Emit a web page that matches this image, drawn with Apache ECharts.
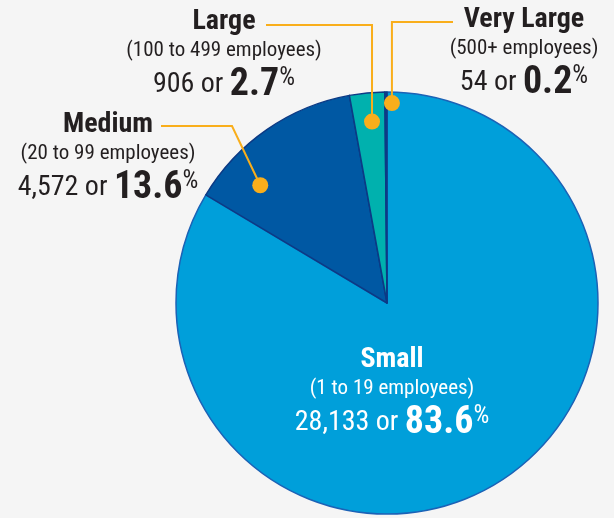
<!DOCTYPE html>
<html>
<head>
<meta charset="utf-8">
<script src="https://cdn.jsdelivr.net/npm/echarts@6/dist/echarts.min.js"></script>
<style>
  html, body { margin: 0; padding: 0; background: #f5f5f5; }
  #main { width: 614px; height: 518px; }
</style>
</head>
<body>
<div id="main"></div>
<script>
// data
const categories = ['Small', 'Medium', 'Large', 'Very Large'];
const ranges = ['(1 to 19 employees)', '(20 to 99 employees)', '(100 to 499 employees)', '(500+ employees)'];
const counts = [28133, 4572, 906, 54];
const percents = [83.6, 13.6, 2.7, 0.2];

const colors = ['#009fda', '#0058a3', '#00b1ae', '#173c8c'];
const FONT = '"Roboto Condensed", "DejaVu Sans", sans-serif';

// pie geometry
const cx = 387, cy = 303, R = 211;

// label / leader line layout (px)
const labelPos = [[392, 346], [108, 111], [224, 8], [524, 6]];
const leader = {
  1: { r: 173, da: -12.4, elbow: [232, 126], endX: 161 },
  2: { r: 182, da: 0.7, elbowY: 25, endX: 266 },
  3: { r: 200, da: 1.7, elbowY: 22, endX: 453 }
};

const total = counts.reduce((a, b) => a + b, 0);
const midAngles = [];
let acc = 0;
counts.forEach(v => {
  midAngles.push((acc + v / 2) / total * 360);
  acc += v;
});

const anchorOf = i => {
  const l = leader[i];
  const a = (midAngles[i] + l.da) * Math.PI / 180;
  return [cx + l.r * Math.sin(a), cy - l.r * Math.cos(a)];
};

const fmt = n => n.toLocaleString('en-US');

const makeRich = color => ({
  t: { fontFamily: FONT, fontSize: 28, fontWeight: 'bold', color: color, lineHeight: 28 },
  s: { fontFamily: FONT, fontSize: 21, color: color, lineHeight: 30 },
  n: { fontFamily: FONT, fontSize: 28, color: color, lineHeight: 38 },
  p: { fontFamily: FONT, fontSize: 38, fontWeight: 'bold', color: color, lineHeight: 38 },
  c: { fontFamily: FONT, fontSize: 25, color: color, verticalAlign: 'top', lineHeight: 38 }
});

const slices = categories.map((name, i) => ({
  name: name,
  value: counts[i],
  itemStyle: i === 0 ? { color: colors[i], borderColor: '#1b62b6' } : { color: colors[i] }
}));

const labelItems = categories.map((name, i) => {
  const item = { name: name, value: counts[i] };
  if (i === 0) {
    item.label = { position: 'inside', rich: makeRich('#ffffff') };
    item.labelLine = { show: false };
  }
  return item;
});

const dotData = [1, 2, 3].map(i => {
  const l = leader[i];
  return [l.r / R, midAngles[i] + l.da];
});

const draw = () => {
  const chart = echarts.init(document.getElementById('main'));
  chart.setOption({
    backgroundColor: '#f5f5f5',
    animation: false,
    polar: { center: [cx, cy], radius: R },
    radiusAxis: { type: 'value', min: 0, max: 1, show: false },
    angleAxis: { type: 'value', min: 0, max: 360, startAngle: 90, clockwise: true, show: false },
    series: [
      {
        type: 'pie',
        center: [cx, cy],
        radius: [0, R],
        startAngle: 90,
        clockwise: true,
        silent: true,
        z: 2,
        itemStyle: { borderColor: '#0c3a85', borderWidth: 1.5 },
        label: { show: false },
        labelLine: { show: false },
        data: slices
      },
      {
        // transparent copy on top, carries the labels and leader lines
        type: 'pie',
        center: [cx, cy],
        radius: [0, R],
        startAngle: 90,
        clockwise: true,
        silent: true,
        avoidLabelOverlap: false,
        z: 4,
        itemStyle: { color: 'rgba(0,0,0,0)', borderWidth: 0 },
        data: labelItems,
        label: {
          show: true,
          position: 'outside',
          align: 'center',
          formatter: p => {
            const i = p.dataIndex;
            return '{t|' + categories[i] + '}\n{s|' + ranges[i] + '}\n{n|' + fmt(counts[i]) + ' or }{p|' + percents[i].toFixed(1) + '}{c|%}';
          },
          rich: makeRich('#231f20')
        },
        labelLine: {
          show: true,
          showAbove: true,
          lineStyle: { color: '#f9ae1b', width: 2 }
        },
        labelLayout: p => {
          const i = p.dataIndex;
          const out = {
            x: labelPos[i][0],
            y: labelPos[i][1],
            align: 'center',
            verticalAlign: 'top'
          };
          if (leader[i]) {
            const a = anchorOf(i);
            const l = leader[i];
            const elbow = l.elbow ? l.elbow : [a[0], l.elbowY];
            out.labelLinePoints = [a, elbow, [l.endX, elbow[1]]];
          }
          return out;
        }
      },
      {
        type: 'scatter',
        coordinateSystem: 'polar',
        symbol: 'circle',
        symbolSize: 16,
        silent: true,
        z: 5,
        itemStyle: { color: '#f9ae1b', opacity: 1 },
        data: dotData
      }
    ]
  });
};

Promise.all([
  document.fonts.load('28px "Roboto Condensed"'),
  document.fonts.load('bold 28px "Roboto Condensed"')
]).then(draw, draw);
</script>
</body>
</html>
